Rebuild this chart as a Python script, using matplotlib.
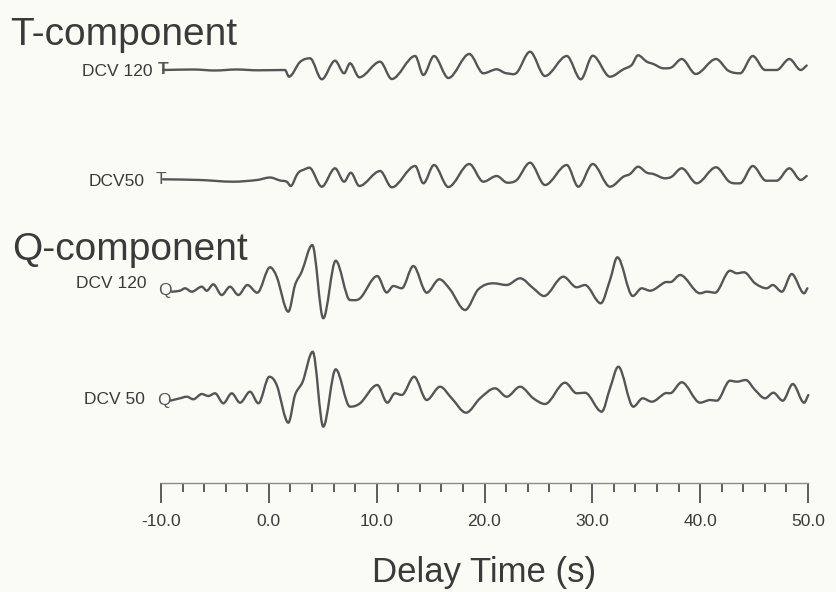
import matplotlib
matplotlib.use("Agg")
import matplotlib.pyplot as plt
from matplotlib.path import Path
from matplotlib.patches import PathPatch
import numpy as np

plt.rcParams['font.family'] = ['Liberation Sans', 'DejaVu Sans']

# ---------------- data (time in s, amplitude in arbitrary units, up = +) ----
t_T120 = [-9.8, -7.0, -5.0, -3.0, -1.0, 1.50, 1.87, 2.89, 3.82, 4.91, 6.14, 6.98, 7.53,
          8.39, 10.32, 11.40, 13.57, 14.33, 15.32, 16.65, 18.59, 19.89, 21.13, 22.06,
          22.99, 24.22, 25.61, 27.63, 28.93, 30.04, 31.64, 32.88, 33.65, 34.24, 35.05,
          35.66, 36.59, 37.36, 38.29, 39.59, 41.47, 42.61, 43.70, 44.88, 46.02, 47.10,
          48.27, 49.33, 49.88]
a_T120 = [0.0, 0.5, -0.5, 0.5, -0.3, 0.0, -6.7, 8.0, 11.7, -9.3, 9.3, -3.3, 6.7,
          -7.3, 8.3, -9.0, 14.0, -5.0, 14.0, -8.0, 16.0, -3.3, 0.7, -3.3,
          -2.7, 18.3, -6.0, 14.0, -9.3, 14.3, -6.7, 0.7, 5.0, 14.7, 8.3,
          6.0, 1.7, 2.7, 11.0, -4.0, 11.0, -0.7, -3.3, 14.0, 0.0, 0.0,
          11.0, 0.0, 4.5]

t_T50 = [-9.81, -6.38, -3.32, -1.09, 0.11, 1.04, 1.66, 2.03, 2.59, 2.83, 3.17, 3.76, 4.91,
         6.14, 6.98, 7.60, 8.39, 10.32, 11.40, 13.57, 14.33, 15.32, 16.65, 18.59,
         19.89, 21.13, 22.12, 22.99, 24.22, 25.61, 27.63, 28.70, 30.04, 31.64,
         32.88, 33.50, 34.24, 35.05, 35.66, 36.75, 37.36, 38.29, 39.68, 41.47,
         42.70, 43.70, 44.88, 46.11, 47.10, 48.27, 49.33, 49.88]
a_T50 = [0.7, 0.0, -1.7, 0.0, 2.5, -0.5, -1.7, -6.0, 5.0, 8.3, 10.0, 12.3, -6.7,
         11.7, -1.7, 7.3, -6.0, 9.0, -7.3, 14.0, -3.3, 15.0, -7.0, 16.0,
         -1.7, 4.0, -2.7, 0.0, 17.3, -5.0, 15.0, -6.7, 16.0, -6.7,
         3.3, 6.0, 13.3, 7.3, 6.0, 1.7, 3.3, 11.7, -3.3, 12.7,
         -1.7, -3.3, 14.0, -0.7, -0.7, 11.7, 0.0, 4.0]

t_Q120 = [-9.00, -8.24, -7.77, -7.15, -6.22, -5.76, -5.15, -4.37, -3.60, -2.83, -1.99,
          -1.07, 0.11, 0.73, 1.81, 2.43, 3.05, 4.03, 5.05, 6.20, 7.53, 8.46, 10.06,
          10.93, 11.55, 12.33, 13.40, 14.64, 15.81, 16.80, 18.20, 19.43, 20.82, 22.06,
          23.30, 24.53, 25.52, 27.31, 28.55, 29.32, 30.78, 31.64, 32.32, 33.75, 34.58,
          35.35, 36.74, 37.36, 38.14, 39.99, 40.61, 41.38, 42.77, 43.40, 44.07, 45.09,
          46.17, 46.73, 47.57, 48.49, 49.64, 49.94]
a_Q120 = [-1.7, -0.7, 1.7, -1.7, 3.3, -0.7, 5.7, -5.0, 3.3, -5.0, 5.0,
          -2.7, 22.7, 13.3, -21.7, 5.0, 18.3, 45.0, -28.3, 29.3, -10.0, -8.3, 14.0,
          -2.5, 4.0, 1.7, 24.0, -2.7, 10.7, 0.7, -20.0, 0.7, 6.7, 5.0,
          11.7, 1.7, -6.0, 13.3, 2.7, 5.0, -13.3, 10.0, 32.7, -6.0, 1.7,
          -0.7, 7.7, 8.3, 15.0, -3.3, -1.7, -2.7, 19.3, 16.7, 17.7, 6.7,
          1.7, 5.0, -1.7, 16.0, -3.3, 1.7]

t_Q50 = [-9.16, -8.24, -7.61, -7.00, -6.22, -5.61, -4.99, -4.22, -3.44, -2.67, -1.74,
         -0.97, 0.05, 0.73, 1.81, 2.43, 3.14, 4.07, 5.05, 6.20, 7.53, 8.46, 10.06,
         10.99, 11.70, 12.33, 13.47, 14.64, 15.88, 16.96, 18.29, 19.59, 20.98, 22.06,
         23.30, 24.53, 25.61, 27.47, 28.55, 29.32, 30.87, 31.64, 32.41, 33.80, 34.67,
         35.51, 36.74, 37.36, 38.29, 39.99, 40.92, 41.54, 42.77, 43.40, 44.23, 45.09,
         46.02, 46.79, 47.66, 48.59, 49.64, 50.03]
a_Q50 = [-1.7, 0.7, 2.3, -0.3, 5.0, 3.0, 5.7, -4.3, 5.7, -3.7, 7.3,
         -4.3, 22.3, 14.0, -23.7, 4.0, 17.3, 47.3, -27.7, 29.7, -7.7, -4.3, 14.0,
         -3.7, 5.7, 4.0, 22.3, -1.0, 12.3, 0.7, -13.7, 0.7, 10.7, 2.3,
         12.3, 0.7, -5.0, 16.3, 5.7, 6.3, -12.7, 10.7, 32.3, -7.7, 0.7,
         -2.7, 5.7, 6.3, 16.7, -3.7, -1.0, -1.7, 18.3, 17.3, 19.0, 9.0,
         0.7, 6.3, -1.7, 15.0, -3.7, 4.0]

major_ticks = [-10, 0, 10, 20, 30, 40, 50]
tick_labels = ["-10.0", "0.0", "10.0", "20.0", "30.0", "40.0", "50.0"]
minor_ticks = list(range(-10, 51, 2))

# ---------------- layout ----------------
W, H = 836, 592
BG = '#fbfbf5'
INK = '#555555'
TXT = '#3a3a3a'

fig = plt.figure(figsize=(W / 100, H / 100), dpi=100, facecolor=BG)


def fx(px):
    return px / W


def fy(py):
    return 1 - py / H


def smooth_trace(t, y):
    t = np.asarray(t, float)
    y = np.asarray(y, float)
    n = len(t)
    m = np.zeros(n)
    for i in range(n):
        lo, hi = max(i - 1, 0), min(i + 1, n - 1)
        if 0 < i < n - 1 and (y[i] - y[lo]) * (y[hi] - y[i]) <= 0:
            m[i] = 0.0          # rounded crest / trough
        else:
            m[i] = (y[hi] - y[lo]) / (t[hi] - t[lo])
    verts = [(t[0], y[0])]
    codes = [Path.MOVETO]
    for i in range(n - 1):
        h = t[i + 1] - t[i]
        verts += [(t[i] + h / 3, y[i] + m[i] * h / 3),
                  (t[i + 1] - h / 3, y[i + 1] - m[i + 1] * h / 3),
                  (t[i + 1], y[i + 1])]
        codes += [Path.CURVE4] * 3
    return Path(verts, codes)


x0, x1 = 161, 808
ax = fig.add_axes([fx(x0), 0, fx(x1) - fx(x0), 1])
ax.set_xlim(-10, 50)
ax.set_ylim(H, 0)
ax.axis('off')
ax.patch.set_alpha(0)

traces = [(t_T120, a_T120, 70), (t_T50, a_T50, 180),
          (t_Q120, a_Q120, 290), (t_Q50, a_Q50, 399)]
for t, a, base in traces:
    p = smooth_trace(t, base - np.asarray(a))
    ax.add_patch(PathPatch(p, fill=False, edgecolor=INK, lw=1.7,
                           joinstyle='round', capstyle='round', clip_on=False))

# titles
fig.text(fx(10), fy(45), "T-component", fontsize=28, color=TXT, va='baseline', ha='left')
fig.text(fx(12), fy(260), "Q-component", fontsize=28, color=TXT, va='baseline', ha='left')

# trace labels
lab_fs = 12.5
fig.text(fx(152), fy(71.5), "DCV 120", fontsize=lab_fs, color=TXT, ha='right', va='center')
fig.text(fx(163), fy(70), "T", fontsize=lab_fs, color=INK, ha='center', va='center', fontweight='bold')
fig.text(fx(145), fy(181), "DCV50", fontsize=lab_fs, color=TXT, ha='right', va='center')
fig.text(fx(161), fy(180), "T", fontsize=lab_fs, color=INK, ha='center', va='center')
fig.text(fx(146), fy(283), "DCV 120", fontsize=lab_fs, color=TXT, ha='right', va='center')
fig.text(fx(165), fy(290), "Q", fontsize=lab_fs, color=INK, ha='center', va='center')
fig.text(fx(145), fy(400), "DCV 50", fontsize=lab_fs, color=TXT, ha='right', va='center')
fig.text(fx(164), fy(400), "Q", fontsize=lab_fs, color=INK, ha='center', va='center')

# time axis
axt = fig.add_axes([fx(x0), fy(483), fx(x1) - fx(x0), 0.0001])
axt.set_xlim(-10, 50)
axt.patch.set_alpha(0)
for s in ['top', 'left', 'right']:
    axt.spines[s].set_visible(False)
axt.spines['bottom'].set_color('#8a8a8a')
axt.spines['bottom'].set_linewidth(1.0)
axt.set_yticks([])
axt.set_xticks(major_ticks)
axt.set_xticklabels(tick_labels)
axt.set_xticks(minor_ticks, minor=True)
axt.tick_params(axis='x', which='major', direction='out', length=14.5, width=1.3,
                color='#505050', labelsize=12.5, labelcolor=TXT, pad=8)
axt.tick_params(axis='x', which='minor', direction='out', length=6.5, width=1.3,
                color='#505050')
axt.set_xlabel("Delay Time (s)", fontsize=25, color=TXT, labelpad=19)

fig.savefig("out.png", dpi=100, facecolor=BG)
